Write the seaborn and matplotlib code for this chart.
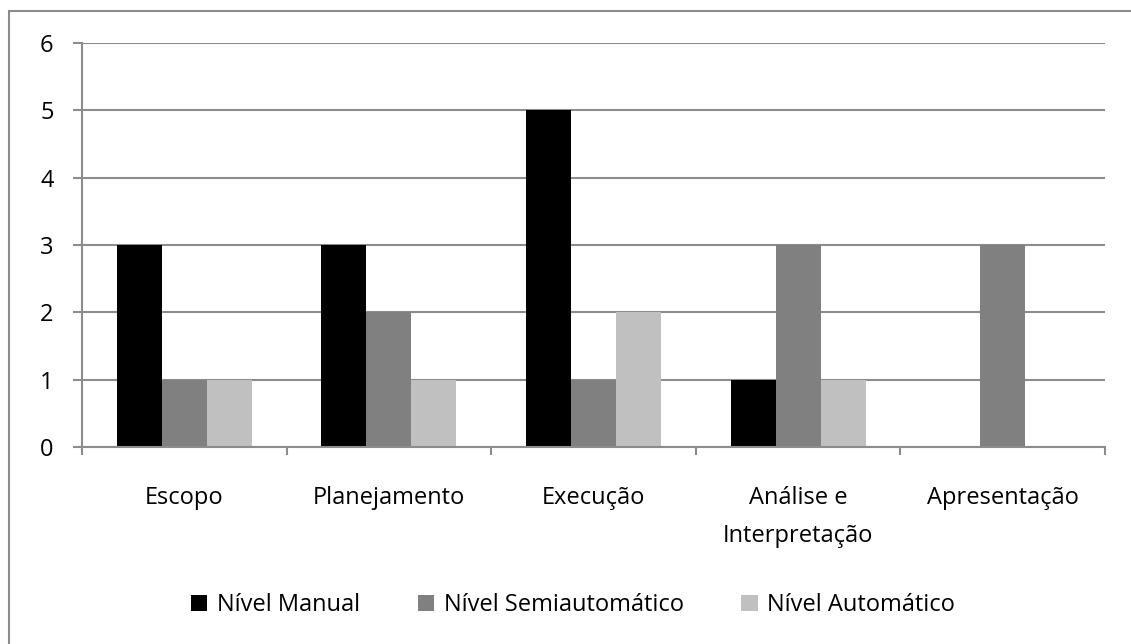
import pandas as pd
import matplotlib.pyplot as plt
import seaborn as sns
from matplotlib.patches import Rectangle, Patch

categories = ["Escopo", "Planejamento", "Execução", "Análise e\nInterpretação", "Apresentação"]
series = ["Nível Manual", "Nível Semiautomático", "Nível Automático"]
manual = [3, 3, 5, 1, 0]
semiauto = [1, 2, 1, 3, 3]
automatico = [1, 1, 2, 1, 0]
colors = ["#000000", "#808080", "#c0c0c0"]

df = pd.DataFrame({
    "Fase": categories * 3,
    "Nível": [s for s in series for _ in categories],
    "Valor": manual + semiauto + automatico,
})

sns.set_style("white")
plt.rcParams["font.family"] = ["Open Sans", "DejaVu Sans"]
plt.rcParams["text.color"] = "black"
plt.rcParams["xtick.color"] = "#8c8c8c"
plt.rcParams["ytick.color"] = "#8c8c8c"

fig = plt.figure(figsize=(11.31, 6.44), dpi=100)
ax = fig.add_axes([82 / 1131, 197 / 644, 1023 / 1131, 404 / 644])

sns.barplot(data=df, x="Fase", y="Valor", hue="Nível", palette=colors,
            width=0.66, gap=0, saturation=1, linewidth=0, ax=ax, legend=False)

ax.set_ylim(0, 6)
ax.set_xlim(-0.5, len(categories) - 0.5)
ax.set_yticks(range(7))
ax.yaxis.grid(True, color="#8c8c8c", linewidth=1.5)
ax.set_axisbelow(True)
ax.set_xlabel("")
ax.set_ylabel("")

for s in ["top", "right"]:
    ax.spines[s].set_visible(False)
for s in ["left", "bottom"]:
    ax.spines[s].set_color("#8c8c8c")
    ax.spines[s].set_linewidth(1.5)

fs = 17

# category boundary ticks like Excel
ax.set_xticks([i - 0.5 for i in range(len(categories) + 1)])
ax.set_xticklabels([])
ax.tick_params(axis="x", which="major", bottom=True, direction="out", length=6,
               width=1.5, color="#8c8c8c")
ax.set_xticks(range(len(categories)), minor=True)
ax.set_xticklabels(categories, minor=True, fontsize=fs, linespacing=1.8)
ax.tick_params(axis="x", which="minor", bottom=True, length=0, pad=28, labelcolor="black")
ax.tick_params(axis="y", left=True, direction="out", length=6.5, width=1.5, color="#8c8c8c",
               labelsize=fs, labelcolor="black", pad=14)

handles = [Patch(facecolor=c, edgecolor="none") for c in colors]
fig.legend(handles, series, loc="center", bbox_to_anchor=(573 / 1131, 1 - 605 / 644),
           ncol=3, frameon=False, fontsize=fs, handlelength=0.68, handleheight=0.68,
           handletextpad=0.42, columnspacing=2.45)

fig.patches.append(Rectangle((9 / 1131, -0.1), 1.2, 1 - 11 / 644 + 0.1,
                             transform=fig.transFigure, fill=False,
                             edgecolor="#8c8c8c", linewidth=1.5))

fig.savefig("out.png", dpi=100)
